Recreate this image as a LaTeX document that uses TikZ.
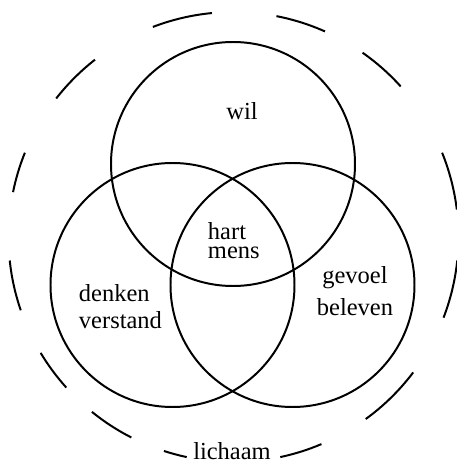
\documentclass[tikz,border=0pt]{standalone}
\usepackage{fontspec}
\setmainfont{Liberation Serif}
\usetikzlibrary{positioning}

\begin{document}
\begin{tikzpicture}[x=0.03cm, y=0.03cm, line width=1.7pt,
    word/.style={inner sep=0pt, font=\fontsize{20.9}{#1}\selectfont},
    word/.default=25]
    \useasboundingbox (0,0) rectangle (457,462);

    % centres of the three circles and of the outer ring
    \coordinate (body) at (233.5,225);
    \coordinate (wilc) at (233,298);
    \coordinate (denkc) at (172.5,177);
    \coordinate (gevc) at (292.5,177);

    \draw (wilc) circle[radius=122];
    \draw (denkc) circle[radius=122];
    \draw (gevc) circle[radius=122];

    % broken outer ring
    \foreach \a/\b in {95.5/111, 66/79, 42/55, 7/22, -21/-6, -54/-37, -78/-67,
                       -108/-102, -129/-117, -149/-138, -174/-161, 158/168.5, 128/142}
        \draw[shift={(body)}] (\a:225) arc[start angle=\a, end angle=\b, radius=225];

    \node[word, anchor=base] (wil) at (242,342) {wil};
    \node[word=15.4, align=left, anchor=base west] (hart) at (207,204) {hart\\mens};
    \node[word=23, align=left, anchor=base west] (denken) at (78,134) {denken\\verstand};
    \node[word=27.3, align=center, anchor=base] (gevoel) at (355,147) {gevoel\\beleven};
    \node[word, anchor=base] (lichaam) at (232,3) {lichaam};
\end{tikzpicture}
\end{document}
